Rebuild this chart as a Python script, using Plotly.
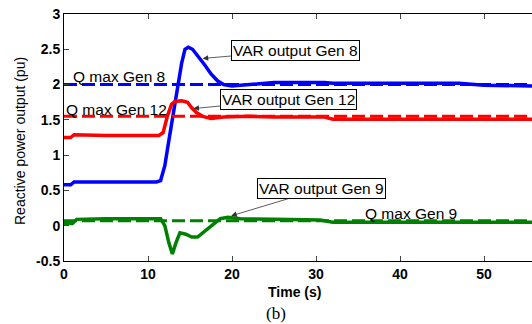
import plotly.graph_objects as go

# ---- data ----
t_gen8 = [0, 0.8, 1.2, 5, 11.0, 11.5, 12.0, 12.5, 13.0, 13.5, 14.0, 14.4, 14.8, 15.3, 16.0, 16.8, 17.5, 18.3, 19.0, 20.0, 21.0, 23.0, 25.0, 31.0, 32.0, 47.0, 50.0, 56.0]
q_gen8 = [0.58, 0.58, 0.62, 0.62, 0.62, 0.64, 0.85, 1.22, 1.6, 1.93, 2.3, 2.5, 2.53, 2.5, 2.4, 2.27, 2.15, 2.05, 2.0, 1.98, 1.99, 2.01, 2.03, 2.03, 2.02, 2.02, 1.99, 1.98]

t_gen12 = [0, 0.8, 1.2, 5, 11.3, 11.8, 12.3, 12.8, 13.2, 14.0, 14.7, 15.2, 15.8, 16.5, 17.5, 19.0, 22.0, 25.0, 31.0, 32.0, 56.0]
q_gen12 = [1.25, 1.25, 1.29, 1.28, 1.28, 1.32, 1.55, 1.72, 1.76, 1.77, 1.75, 1.67, 1.6, 1.55, 1.52, 1.54, 1.55, 1.54, 1.54, 1.51, 1.51]

t_gen9 = [0, 1.0, 1.5, 5, 11.5, 12.0, 12.5, 12.9, 13.3, 13.8, 14.5, 15.2, 15.9, 16.8, 17.8, 18.6, 19.5, 21.0, 25.0, 30.5, 32.0, 56.0]
q_gen9 = [0.03, 0.03, 0.09, 0.1, 0.1, 0.0, -0.25, -0.4, -0.25, -0.1, -0.12, -0.16, -0.16, -0.07, 0.03, 0.1, 0.12, 0.1, 0.09, 0.08, 0.05, 0.05]

t_limits = [0, 56]
qmax_gen8 = 2.0
qmax_gen12 = 1.55
qmax_gen9 = 0.07

x_ticks = [0, 10, 20, 30, 40, 50]
y_ticks = [-0.5, 0, 0.5, 1, 1.5, 2, 2.5, 3]
y_ticklabels = ["-0.5", "0", "0.5", "1", "1.5", "2", "2.5", "3"]

BLUE, RED, GREEN = "#0000FF", "#FF0000", "#008000"
FONT = "Liberation Sans, Arial, sans-serif"

fig = go.Figure()
for t, q, c in [(t_gen8, q_gen8, BLUE), (t_gen12, q_gen12, RED), (t_gen9, q_gen9, GREEN)]:
    fig.add_trace(go.Scatter(x=t, y=q, mode="lines", line=dict(color=c, width=3.5),
                             showlegend=False, hoverinfo="skip"))
for qm, c in [(qmax_gen8, BLUE), (qmax_gen12, RED), (qmax_gen9, GREEN)]:
    fig.add_trace(go.Scatter(x=t_limits, y=[qm, qm], mode="lines",
                             line=dict(color=c, width=3, dash="13px,5px"),
                             showlegend=False, hoverinfo="skip"))

ann_font = dict(family=FONT, size=15.5, color="black")
arrow = dict(showarrow=True, arrowhead=2, arrowsize=1.4, arrowwidth=0.8, arrowcolor="#333",
             bordercolor="black", borderwidth=1, borderpad=1, bgcolor="white", font=ann_font)
annotations = [
    dict(x=16.5, y=2.37, xref="x", yref="y", text="VAR output Gen 8", ax=93, ay=-8, **arrow),
    dict(x=15.4, y=1.66, xref="x", yref="y", text="VAR output Gen 12", ax=95, ay=-9, **arrow),
    dict(x=19.9, y=0.14, xref="x", yref="y", text="VAR output Gen 9", ax=90, ay=-27, **arrow),
    dict(x=6.5, y=2.11, xref="x", yref="y", text="Q max Gen 8", showarrow=False, font=ann_font),
    dict(x=6.3, y=1.65, xref="x", yref="y", text="Q max Gen 12", showarrow=False, font=ann_font),
    dict(x=41.3, y=0.18, xref="x", yref="y", text="Q max Gen 9", showarrow=False, font=ann_font),
    # axis titles and caption
    dict(x=(294 - 64) / 468, y=(261 - 292) / 247, xref="paper", yref="paper", text="<b>Time (s)</b>",
         xanchor="center", yanchor="middle", showarrow=False,
         font=dict(family=FONT, size=14, color="black")),
    dict(x=(20 - 64) / 468, y=(261 - 141) / 247, xref="paper", yref="paper",
         text="Reactive power output (pu)", textangle=-90, xanchor="center", yanchor="middle",
         showarrow=False, font=dict(family=FONT, size=14, color="black")),
    dict(x=(276 - 64) / 468, y=(261 - 313) / 247, xref="paper", yref="paper", text="(b)",
         xanchor="center", yanchor="middle", showarrow=False,
         font=dict(family="Liberation Serif, Times New Roman, serif", size=17, color="black")),
]

tickfont = dict(family=FONT, size=14, color="black", weight="bold")
fig.update_layout(
    width=532, height=324,
    margin=dict(l=64, r=0, t=14, b=63),
    plot_bgcolor="white", paper_bgcolor="white",
    annotations=annotations,
    xaxis=dict(range=[0, (532 - 63.5) / 8.41], tickvals=x_ticks, ticks="inside", ticklen=5,
               showline=True, linecolor="black", linewidth=1, mirror="ticks", showgrid=False,
               zeroline=False, tickfont=tickfont),
    yaxis=dict(range=[-0.5, 3], tickvals=y_ticks, ticktext=y_ticklabels, ticks="inside", ticklen=5,
               showline=True, linecolor="black", linewidth=1, showgrid=False, zeroline=False,
               tickfont=tickfont),
)

fig.write_html("out.html")
